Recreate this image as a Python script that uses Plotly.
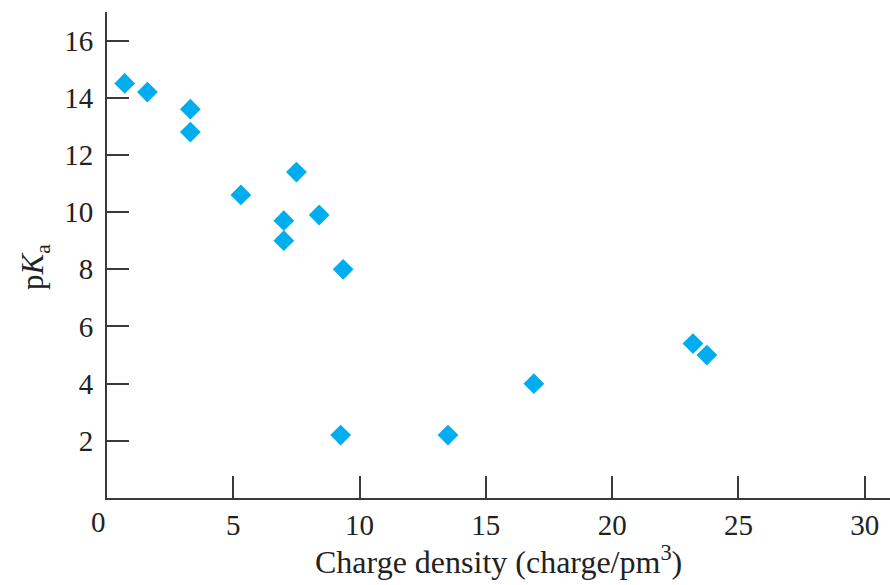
import plotly.graph_objects as go

# Charge density (charge/pm^3) and pKa of the hydrated cations
charge_density = [0.7, 1.6, 3.3, 3.3, 5.3, 7.5, 7.0, 7.0, 8.4, 9.35, 9.25, 13.5, 16.9, 23.2, 23.75]
pka = [14.5, 14.2, 13.6, 12.8, 10.6, 11.4, 9.7, 9.0, 9.9, 8.0, 2.2, 2.2, 4.0, 5.4, 5.0]

x_ticks = [5, 10, 15, 20, 25, 30]
y_ticks = [2, 4, 6, 8, 10, 12, 14, 16]

font_family = "Liberation Serif, Times New Roman, serif"
axis_color = "#3a3a3a"
text_color = "#222"

fig = go.Figure()
fig.add_trace(go.Scatter(
    x=charge_density,
    y=pka,
    mode="markers",
    marker=dict(symbol="diamond", size=16, color="#00aeef", line=dict(width=0)),
    showlegend=False,
    hoverinfo="x+y",
))

fig.update_xaxes(
    range=[0, 31],
    tickvals=x_ticks,
    ticktext=[str(v) for v in x_ticks],
    ticks="inside",
    ticklen=22,
    tickwidth=2,
    tickcolor=axis_color,
    showline=True,
    linecolor=axis_color,
    linewidth=2,
    showgrid=False,
    zeroline=False,
    tickfont=dict(family=font_family, size=29, color=text_color),
)
fig.update_yaxes(
    range=[0, 17],
    tickvals=y_ticks,
    ticktext=[str(v) for v in y_ticks],
    ticks="inside",
    ticklen=22,
    tickwidth=2,
    tickcolor=axis_color,
    showline=True,
    linecolor=axis_color,
    linewidth=2,
    showgrid=False,
    zeroline=False,
    ticklabelstandoff=6,
    tickfont=dict(family=font_family, size=29, color=text_color),
)

# shared origin label
fig.add_annotation(x=0, y=0, xref="x", yref="y", text="0", showarrow=False,
                   xanchor="center", yanchor="top", xshift=-9, yshift=-6,
                   font=dict(family=font_family, size=29, color=text_color))
# x-axis title
fig.add_annotation(x=0.5, y=0, xref="paper", yref="paper", yanchor="middle",
                   text="Charge density (charge/pm<sup>3</sup>)", showarrow=False,
                   yshift=-62,
                   font=dict(family=font_family, size=32, color=text_color))
# rotated y-axis title
fig.add_annotation(x=0, y=0.5, xref="paper", yref="paper",
                   xanchor="center", yanchor="middle",
                   text="p<i>K</i><sub>a</sub>", textangle=-90, showarrow=False,
                   xshift=-72, yshift=-12,
                   font=dict(family=font_family, size=31, color=text_color))

fig.update_layout(
    width=890,
    height=585,
    margin=dict(l=107, r=0, t=12, b=87),
    paper_bgcolor="white",
    plot_bgcolor="white",
)

fig.write_html("out.html")
